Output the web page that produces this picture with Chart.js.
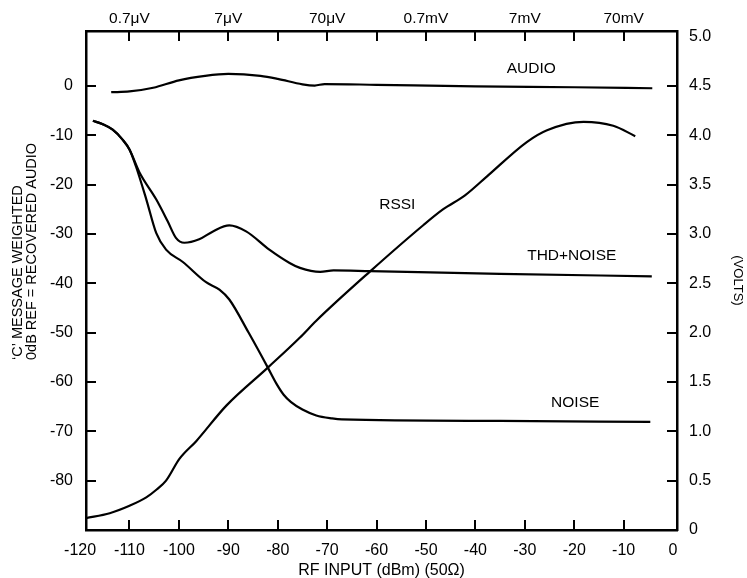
<!DOCTYPE html>
<html>
<head>
<meta charset="utf-8">
<script src="https://cdn.jsdelivr.net/npm/chart.js@4.4.0/dist/chart.umd.min.js"></script>
<style>
  html, body { margin: 0; padding: 0; background: #fff; }
</style>
</head>
<body>
<canvas id="myChart" width="747" height="578"></canvas>
<script>
// values: RF input in dBm, levels in dB, RSSI in volts
const audioDbm = [-113.7, -110, -105.2, -100, -94.7, -90, -83.5, -80, -75, -72.5, -70.5, -60, -40, -20, -4.2];
const audioDb  = [-1.3, -1.15, -0.4, 1.1, 2.0, 2.4, 2.0, 1.4, 0.3, 0.05, 0.35, 0.2, -0.1, -0.3, -0.5];

const thdDbm = [-117.4, -115.4, -113.4, -111.4, -110, -108, -104.6, -102.3, -100.6, -98.9, -95.9, -93.1, -89.8, -86.4, -81.7, -77.6, -75.5, -71.4, -68.7, -61.3, -35, -4.3];
const thdDb  = [-7.1, -7.8, -8.9, -10.9, -12.9, -17.5, -23.0, -27.4, -30.8, -31.8, -31.1, -29.5, -28.3, -29.5, -33.2, -35.9, -36.9, -37.7, -37.4, -37.55, -38.1, -38.6];

const noiseDbm = [-117.4, -115.4, -113.4, -111.4, -110, -108.7, -106.6, -104.6, -102.6, -99.2, -94.5, -91.8, -89.8, -85.9, -82.0, -80.3, -78.8, -77.3, -75, -72.2, -69, -67, -35, -4.6];
const noiseDb  = [-7.1, -7.8, -8.9, -10.9, -12.9, -16.3, -23.0, -29.8, -33.2, -35.7, -39.8, -41.3, -43.3, -50.0, -57.1, -60.3, -62.6, -64.1, -65.6, -66.8, -67.4, -67.6, -67.9, -68.1];

const rssiDbm  = [-118.8, -114, -110, -106.6, -104.5, -102.6, -99.9, -96.5, -90.4, -82, -75.5, -72.2, -61.3, -50.5, -46.5, -42.1, -37.7, -29.6, -25.5, -18.1, -12.1, -7.65];
const rssiVolt = [0.12, 0.17, 0.245, 0.33, 0.41, 0.5, 0.72, 0.9, 1.26, 1.645, 1.95, 2.12, 2.62, 3.09, 3.25, 3.39, 3.58, 3.93, 4.05, 4.135, 4.095, 3.99];

const xTickVals = [-120, -110, -100, -90, -80, -70, -60, -50, -40, -30, -20, -10, 0];
const topTickVals = [-110, -90, -70, -50, -30, -10];
const topTickLabels = ['0.7\u03bcV', '7\u03bcV', '70\u03bcV', '0.7mV', '7mV', '70mV'];
const leftTickVals = [0, -10, -20, -30, -40, -50, -60, -70, -80];
const rightTickVals = [0, 0.5, 1.0, 1.5, 2.0, 2.5, 3.0, 3.5, 4.0, 4.5, 5.0];

const FONT = '"Liberation Sans", Arial, Helvetica, sans-serif';

function pts(xs, ys) {
    return xs.map((v, i) => ({ x: v, y: ys[i] }));
}

// curve names, placed in data coordinates
const curveLabels = [
    { text: 'AUDIO', x: -28.7, y: 3.4 },
    { text: 'RSSI', x: -55.8, y: -24.1 },
    { text: 'THD+NOISE', x: -20.5, y: -34.4 },
    { text: 'NOISE', x: -19.8, y: -64.3 }
];

const insideTicks = {
    id: 'insideTicks',
    afterDraw(chart) {
        const ctx = chart.ctx;
        const a = chart.chartArea;
        const sx = chart.scales.x, sy = chart.scales.y, sy2 = chart.scales.y2;
        ctx.save();
        ctx.strokeStyle = '#000';
        ctx.lineWidth = 2;
        ctx.beginPath();
        for (let v = -110; v <= -10; v += 10) {
            const px = Math.round(sx.getPixelForValue(v));
            ctx.moveTo(px, a.bottom); ctx.lineTo(px, a.bottom - 10);
            ctx.moveTo(px, a.top); ctx.lineTo(px, a.top + 10);
        }
        leftTickVals.forEach(v => {
            const py = Math.round(sy.getPixelForValue(v));
            ctx.moveTo(a.left, py); ctx.lineTo(a.left + 10, py);
        });
        rightTickVals.forEach(v => {
            if (v <= 0 || v >= 5) return;
            const py = Math.round(sy2.getPixelForValue(v));
            ctx.moveTo(a.right, py); ctx.lineTo(a.right - 10, py);
        });
        ctx.stroke();

        // curve names
        ctx.fillStyle = '#000';
        ctx.font = '15.5px ' + FONT;
        ctx.textAlign = 'center';
        ctx.textBaseline = 'middle';
        curveLabels.forEach(l => {
            ctx.fillText(l.text, sx.getPixelForValue(l.x), sy.getPixelForValue(l.y));
        });

        // left axis title, two lines starting at the same point
        ctx.font = '14.5px ' + FONT;
        ctx.textAlign = 'left';
        ctx.translate(0, 360);
        ctx.rotate(-Math.PI / 2);
        ctx.fillText('\u2018C\u2019 MESSAGE WEIGHTED', 0, 18);
        ctx.fillText('0dB REF = RECOVERED AUDIO', 0, 32);
        ctx.restore();
    }
};

const ctx = document.getElementById('myChart').getContext('2d');

const lineStyle = {
    borderColor: '#000',
    borderWidth: 2.2,
    pointRadius: 0,
    fill: false,
    cubicInterpolationMode: 'monotone'
};

new Chart(ctx, {
    type: 'line',
    data: {
        datasets: [
            Object.assign({ label: 'AUDIO', data: pts(audioDbm, audioDb), xAxisID: 'x', yAxisID: 'y' }, lineStyle),
            Object.assign({ label: 'THD+NOISE', data: pts(thdDbm, thdDb), xAxisID: 'x', yAxisID: 'y' }, lineStyle),
            Object.assign({ label: 'NOISE', data: pts(noiseDbm, noiseDb), xAxisID: 'x', yAxisID: 'y' }, lineStyle),
            Object.assign({ label: 'RSSI', data: pts(rssiDbm, rssiVolt), xAxisID: 'x', yAxisID: 'y2' }, lineStyle)
        ]
    },
    options: {
        responsive: false,
        animation: false,
        devicePixelRatio: 1,
        layout: { padding: 0 },
        plugins: {
            legend: { display: false },
            tooltip: { enabled: false }
        },
        scales: {
            x: {
                type: 'linear',
                position: 'bottom',
                min: -118.8,
                max: 0.8,
                afterBuildTicks: s => { s.ticks = xTickVals.map(v => ({ value: v })); },
                afterFit: s => { s.height = 48; },
                grid: { display: false, drawTicks: false },
                border: { display: true, color: '#000', width: 2.5 },
                ticks: {
                    autoSkip: false, maxRotation: 0, padding: 11,
                    color: '#000', font: { family: FONT, size: 16 },
                    callback: v => String(v)
                },
                title: {
                    display: true, text: 'RF INPUT (dBm) (50\u03a9)', color: '#000',
                    font: { family: FONT, size: 16, lineHeight: 0.875 }, padding: 0
                }
            },
            x2: {
                type: 'linear',
                position: 'top',
                min: -118.8,
                max: 0.8,
                afterBuildTicks: s => { s.ticks = topTickVals.map(v => ({ value: v })); },
                afterFit: s => { s.height = 31; },
                grid: { display: false, drawTicks: false },
                border: { display: true, color: '#000', width: 2.5 },
                ticks: {
                    autoSkip: false, maxRotation: 0, padding: 3,
                    color: '#000', font: { family: FONT, size: 15.5 },
                    callback: (v, i) => topTickLabels[i]
                }
            },
            y: {
                type: 'linear',
                position: 'left',
                min: -90,
                max: 11.1,
                afterBuildTicks: s => { s.ticks = leftTickVals.map(v => ({ value: v })); },
                afterFit: s => { s.width = 86; },
                grid: { display: false, drawTicks: false },
                border: { display: true, color: '#000', width: 2.5 },
                ticks: {
                    autoSkip: false, padding: 13,
                    color: '#000', font: { family: FONT, size: 16 },
                    callback: v => String(v)
                }
            },
            y2: {
                type: 'linear',
                position: 'right',
                min: 0,
                max: 5.055,
                afterBuildTicks: s => { s.ticks = rightTickVals.map(v => ({ value: v })); },
                afterFit: s => { s.width = 70; },
                grid: { display: false, drawTicks: false },
                border: { display: true, color: '#000', width: 2.5 },
                ticks: {
                    autoSkip: false, padding: 12,
                    color: '#000', font: { family: FONT, size: 16 },
                    callback: v => (v === 0 ? '0' : v.toFixed(1))
                },
                title: {
                    display: true, text: '(VOLTS)', color: '#000',
                    font: { family: FONT, size: 13 }, padding: { top: 2, bottom: 0 }
                }
            }
        }
    },
    plugins: [insideTicks]
});
</script>
</body>
</html>
